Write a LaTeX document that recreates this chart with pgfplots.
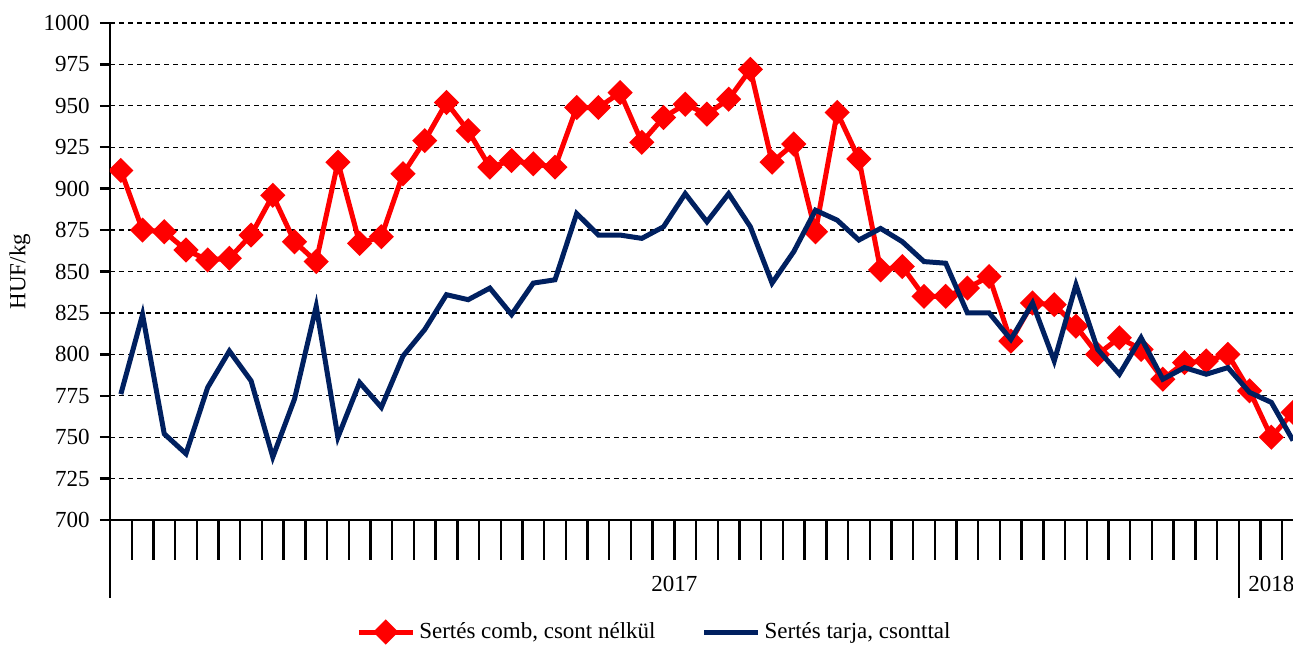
\documentclass[border=0pt]{standalone}
\usepackage{fontspec}
\setmainfont{Liberation Serif}
\usepackage{pgfplots}
\pgfplotsset{compat=1.18}
\definecolor{cred}{RGB}{255,0,0}
\definecolor{cnavy}{RGB}{0,32,96}
\begin{document}
\fontsize{11.5}{13.8}\selectfont
\begin{tikzpicture}
\useasboundingbox (0,0) rectangle (646.5pt,322.5pt);
\begin{axis}[
  at={(55pt,62.5pt)}, anchor=south west,
  width=591.5pt, height=248.5pt, scale only axis,
  xmin=0.5, xmax=55, ymin=700, ymax=1000,
  axis x line*=bottom, axis y line*=left,
  axis line style={line width=1.2pt, -},
  ytick={700,725,...,1000},
  xtick=\empty,
  ymajorgrids,
  grid style={black, line width=0.6pt, dash pattern=on 2.5pt off 2pt},
  ytick align=outside, major tick length=5pt,
  tick style={black, line width=1.2pt},
  yticklabel style={font=\fontsize{11.5}{13.8}\selectfont, inner sep=1pt, xshift=-4pt},
  /pgf/number format/assume math mode=true,
  /pgf/number format/1000 sep={},
  every axis y label/.style={at={(axis description cs:-0.0761,0.5)}, rotate=90, anchor=center, font=\fontsize{11.5}{13.8}\selectfont},
  ylabel={HUF/kg},
  clip mode=individual, clip marker paths=true,
  legend columns=2,
  legend style={at={(axis description cs:0.461,-0.2254)}, anchor=center, draw=none,
    font=\fontsize{11.5}{13.8}\selectfont,
    /tikz/every even column/.append style={column sep=21pt}},
  legend cell align=left,
  legend image code/.code={\draw[mark repeat=2,mark phase=2,#1] plot coordinates {(0pt,0pt) (13.5pt,0pt) (27pt,0pt)};},
]
\addplot[cred, line width=2.5pt, mark=square*, mark size=3.2pt, mark options={rotate=45, solid, fill=cred}] coordinates {
(1,911)(2,875)(3,874)(4,863)(5,857)(6,858)(7,872)(8,896)(9,868)(10,856)
(11,916)(12,867)(13,871)(14,909)(15,929)(16,952)(17,935)(18,913)(19,917)(20,915)
(21,913)(22,949)(23,949)(24,958)(25,928)(26,943)(27,951)(28,945)(29,954)(30,972)
(31,916)(32,927)(33,874)(34,946)(35,918)(36,851)(37,853)(38,835)(39,835)(40,840)
(41,847)(42,808)(43,831)(44,830)(45,817)(46,800)(47,810)(48,803)(49,785)(50,795)
(51,796)(52,800)(53,778)(54,750)(55,765)};
\addlegendentry{Sertés comb, csont nélkül}
\addplot[cnavy, line width=2.5pt, mark=none] coordinates {
(1,776)(2,824)(3,752)(4,740)(5,780)(6,802)(7,784)(8,738)(9,773)(10,829)
(11,750)(12,783)(13,768)(14,799)(15,815)(16,836)(17,833)(18,840)(19,824)(20,843)
(21,845)(22,885)(23,872)(24,872)(25,870)(26,877)(27,897)(28,880)(29,897)(30,877)
(31,843)(32,862)(33,887)(34,881)(35,869)(36,876)(37,868)(38,856)(39,855)(40,825)
(41,825)(42,809)(43,831)(44,796)(45,842)(46,803)(47,788)(48,810)(49,785)(50,792)
(51,788)(52,792)(53,777)(54,771)(55,748)};
\addlegendentry{Sertés tarja, csonttal}
\pgfplotsinvokeforeach{1,...,51}{\draw[black, line width=1.2pt] (axis cs:#1.5,700) -- ++(0pt,-20pt);}
\draw[black, line width=1.2pt] (axis cs:53.5,700) -- ++(0pt,-20pt);
\draw[black, line width=1.2pt] (axis cs:54.5,700) -- ++(0pt,-20pt);
\draw[black, line width=1.2pt] (axis cs:0.5,700) -- ++(0pt,-39pt);
\draw[black, line width=1.2pt] (axis cs:52.5,700) -- ++(0pt,-39pt);
\node[font=\fontsize{11.5}{13.8}\selectfont] at (axis cs:26.5,700) [yshift=-32pt] {2017};
\node[font=\fontsize{11.5}{13.8}\selectfont] at (axis cs:54,700) [yshift=-32pt] {2018};
\end{axis}
\end{tikzpicture}
\end{document}
